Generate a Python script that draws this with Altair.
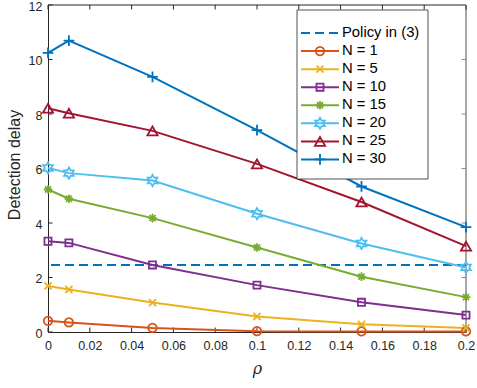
import altair as alt
import pandas as pd

# Sampled correlation levels and measured detection delays per network size
rho = [0, 0.01, 0.05, 0.1, 0.15, 0.2]
series_names = ["N = 1", "N = 5", "N = 10", "N = 15", "N = 20", "N = 25", "N = 30"]
delay_n1 = [0.41, 0.35, 0.15, 0.03, 0.02, 0.02]
delay_n5 = [1.69, 1.56, 1.08, 0.57, 0.28, 0.15]
delay_n10 = [3.33, 3.27, 2.46, 1.72, 1.09, 0.62]
delay_n15 = [5.23, 4.89, 4.18, 3.10, 2.03, 1.28]
delay_n20 = [6.02, 5.83, 5.56, 4.34, 3.25, 2.37]
delay_n25 = [8.21, 8.03, 7.38, 6.17, 4.77, 3.15]
delay_n30 = [10.24, 10.69, 9.36, 7.41, 5.34, 3.85]
policy_label = "Policy in (3)"
policy_delay = 2.46

x_ticks = [0, 0.02, 0.04, 0.06, 0.08, 0.1, 0.12, 0.14, 0.16, 0.18, 0.2]
y_ticks = [0, 2, 4, 6, 8, 10, 12]

# Marker paths drawn inside the unit square [-1, 1]
X_PATH = "M-1,-1L1,1M-1,1L1,-1"
PLUS_PATH = "M-1,0L1,0M0,-1L0,1"
STAR_PATH = "M-1,0L1,0M0,-1L0,1M-0.7,-0.7L0.7,0.7M-0.7,0.7L0.7,-0.7"
HEX_PATH = ("M0,-1L0.289,-0.5L0.866,-0.5L0.577,0L0.866,0.5L0.289,0.5L0,1"
            "L-0.289,0.5L-0.866,0.5L-0.577,0L-0.866,-0.5L-0.289,-0.5Z")

# colour, marker, marker size
styles = {
    "N = 1": ("#D95319", "circle", 72),
    "N = 5": ("#EDB120", X_PATH, 50),
    "N = 10": ("#7E2F8E", "square", 50),
    "N = 15": ("#77AC30", STAR_PATH, 75),
    "N = 20": ("#4DBEEE", HEX_PATH, 125),
    "N = 25": ("#A2142F", "triangle-up", 105),
    "N = 30": ("#0072BD", PLUS_PATH, 115),
}
policy_color = "#0072BD"

all_delays = [delay_n1, delay_n5, delay_n10, delay_n15, delay_n20, delay_n25, delay_n30]
rows = []
for name, ys in zip(series_names, all_delays):
    col, shp, sz = styles[name]
    for r, d in zip(rho, ys):
        rows.append({"series": name, "rho": r, "delay": d,
                     "color": col, "shape": shp, "size": sz})
df = pd.DataFrame(rows)

FONT = "Liberation Sans"
INK = "#262626"
W, H = 418, 327

xscale = alt.Scale(domain=[0, 0.2], nice=False, zero=False)
yscale = alt.Scale(domain=[0, 12], nice=False)
xaxis = alt.Axis(values=x_ticks, format="~g", title="ρ", titleFont="DejaVu Serif",
                 titleFontStyle="italic", titleFontSize=16, titleFontWeight="normal",
                 titleColor=INK, titleY=41, titleBaseline="alphabetic",
                 labelFont=FONT, labelFontSize=12.5, labelColor=INK, labelPadding=7,
                 labelFlush=False, labelOverlap=False, ticks=False, tickSize=0,
                 domainColor=INK, domainWidth=1, grid=False)
yaxis = alt.Axis(values=y_ticks, title="Detection delay", titleFont=FONT,
                 titleFontSize=16, titleFontWeight="normal", titleColor=INK,
                 titleX=-34, titleY=159.5, titleAlign="center", titleBaseline="middle",
                 labelFont=FONT, labelFontSize=12.5, labelColor=INK, labelPadding=6,
                 labelOffset=1, labelOverlap=False, ticks=False, tickSize=0,
                 domainColor=INK, domainWidth=1, grid=False)

def X(field):
    return alt.X(field, type="quantitative", scale=xscale, axis=xaxis)

def Y(field):
    return alt.Y(field, type="quantitative", scale=yscale, axis=yaxis)

one = alt.Data(values=[{}])
xt = pd.DataFrame({"v": x_ticks})
yt = pd.DataFrame({"v": y_ticks})

# Box outline with inward ticks on all four sides
top_edge = alt.Chart(one).mark_rule(color=INK, strokeWidth=1).encode(
    x=alt.value(0), x2=alt.value(W), y=alt.value(0))
right_edge = alt.Chart(one).mark_rule(color="#8a8a8a", strokeWidth=1.5).encode(
    x=alt.value(W), y=alt.value(0), y2=alt.value(H))
ticks_bottom = alt.Chart(xt).mark_rule(color=INK, strokeWidth=1).encode(
    x=X("v"), y=alt.value(H), y2=alt.value(H - 4.5))
ticks_top = alt.Chart(xt).mark_rule(color=INK, strokeWidth=1).encode(
    x=X("v"), y=alt.value(0), y2=alt.value(4.5))
ticks_left = alt.Chart(yt).mark_rule(color=INK, strokeWidth=1).encode(
    y=Y("v"), x=alt.value(0), x2=alt.value(4.5))
ticks_right = alt.Chart(yt).mark_rule(color="#8a8a8a", strokeWidth=1).encode(
    y=Y("v"), x=alt.value(W), x2=alt.value(W - 4.5))

policy = alt.Chart(pd.DataFrame({"v": [policy_delay]})).mark_rule(
    color=policy_color, strokeWidth=2, strokeDash=[9, 5]).encode(y=Y("v"))

lines = alt.Chart(df).mark_line(strokeWidth=2).encode(
    x=X("rho"), y=Y("delay"),
    color=alt.Color("color:N", scale=None),
    detail="series:N",
)
points = alt.Chart(df).mark_point(filled=False, strokeWidth=1.8, opacity=1).encode(
    x=X("rho"), y=Y("delay"),
    color=alt.Color("color:N", scale=None),
    shape=alt.Shape("shape:N", scale=None),
    size=alt.Size("size:Q", scale=None),
)

plot = alt.layer(top_edge, right_edge, ticks_bottom, ticks_top, ticks_left, ticks_right,
                 policy, lines, points)

# Legend box in the upper right corner
labels = [policy_label] + series_names
leg_rows = [{"label": policy_label, "color": policy_color}] + [
    {"label": n, "color": styles[n][0], "shape": styles[n][1], "size": styles[n][2]}
    for n in series_names]
leg_df = pd.DataFrame(leg_rows)
ly = alt.Y("label:N", scale=alt.Scale(domain=labels, range=[19, 163.5], padding=0),
           axis=None)

leg_box = alt.Chart(one).mark_rect(fill="white", stroke=INK, strokeWidth=0.8).encode(
    x=alt.value(249), x2=alt.value(380), y=alt.value(5), y2=alt.value(174))
leg_dash = alt.Chart(leg_df).transform_filter(
    alt.datum.label == policy_label).mark_rule(
    strokeWidth=2, strokeDash=[9, 5], color=policy_color).encode(
    x=alt.value(253), x2=alt.value(291), y=ly)
leg_lines = alt.Chart(leg_df).transform_filter(
    alt.datum.label != policy_label).mark_rule(strokeWidth=2).encode(
    x=alt.value(253), x2=alt.value(291), y=ly, color=alt.Color("color:N", scale=None))
leg_marks = alt.Chart(leg_df).transform_filter(
    alt.datum.label != policy_label).mark_point(filled=False, strokeWidth=1.8, opacity=1).encode(
    x=alt.value(272), y=ly,
    color=alt.Color("color:N", scale=None),
    shape=alt.Shape("shape:N", scale=None),
    size=alt.Size("size:Q", scale=None))
leg_text = alt.Chart(leg_df).mark_text(
    align="left", baseline="middle", font=FONT, fontSize=14.8, color="black").encode(
    x=alt.value(294), y=ly, text="label:N")

legend = alt.layer(leg_box, leg_dash, leg_lines, leg_marks, leg_text)

chart = alt.layer(plot, legend).resolve_scale(y="independent").properties(
    width=W, height=H,
    padding={"left": 48, "top": 5, "right": 11, "bottom": 56},
    autosize=alt.AutoSizeParams(type="none"),
    background="white",
).configure_view(stroke=None)

chart.save("out.html", embed_options={"renderer": "svg", "actions": False})
